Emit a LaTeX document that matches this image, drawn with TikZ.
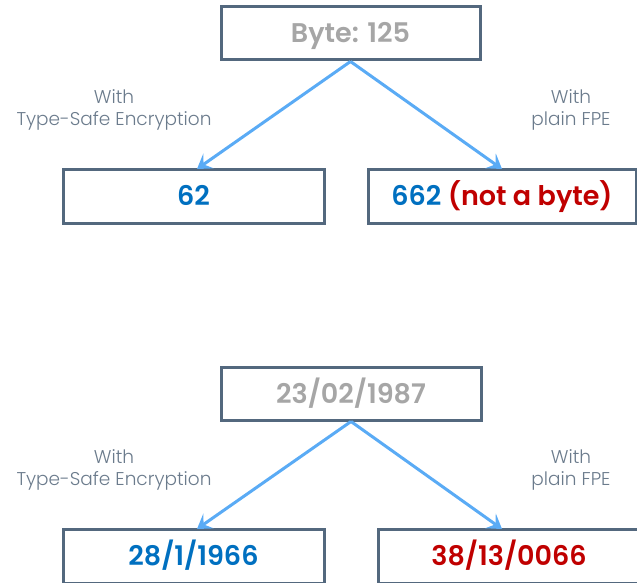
\documentclass[tikz,border=0pt]{standalone}
\usepackage{fontspec}
\setmainfont{Poppins}[BoldFont={Poppins SemiBold}]
\newfontfamily\captionfont{Poppins Light}
\usetikzlibrary{arrows.meta}
\definecolor{boxedge}{HTML}{53687E}
\definecolor{arrowblue}{HTML}{5AABF5}
\definecolor{plaingray}{HTML}{A6A6A6}
\definecolor{valblue}{HTML}{0070C0}
\definecolor{valred}{HTML}{C00000}
\definecolor{labelgray}{HTML}{6B7B8C}
\tikzset{
  valbox/.style={draw=boxedge, line width=3pt, fill=white, inner sep=0pt,
    text height=19pt, text depth=0pt,
    font=\fontsize{27}{32}\selectfont\bfseries},
  flow/.style={draw=arrowblue, line width=3pt,
    -{Stealth[length=14pt, width=18pt, inset=6pt]}},
  caption/.style={text=labelgray, align=center, font=\captionfont\fontsize{18.5}{22}\selectfont}
}
\begin{document}
\begin{tikzpicture}[x=1pt, y=-1pt]
\useasboundingbox (0,0) rectangle (637,583);

% first example: a byte value
\node[valbox, minimum width=259pt, minimum height=53pt, text=plaingray] (b0) at (350.5,33.5) {Byte: 125};
\node[valbox, minimum width=261pt, minimum height=54pt, text=valblue] (b1) at (193.5,196) {62};
\node[valbox, minimum width=268pt, minimum height=54pt] (b2) at (502,196) {\textcolor{valblue}{662} \textcolor{valred}{(not a byte)}};
\coordinate (b1t) at (197,169);
\coordinate (b2t) at (502,169);
\draw[flow] (b0.south) -- (b1t);
\draw[flow] (b0.south) -- (b2t);
\node[caption] (c1) at (114,110) {With\\Type-Safe Encryption};
\node[caption] (c2) at (571,110) {With\\plain FPE};

% second example: a date value
\node[valbox, minimum width=260pt, minimum height=53pt, text=plaingray] (d0) at (351,393.5) {23/02/1987};
\node[valbox, minimum width=261pt, minimum height=54pt, text=valblue] (d1) at (193.5,556) {28/1/1966};
\node[valbox, minimum width=262pt, minimum height=54pt, text=valred] (d2) at (509,556) {38/13/0066};
\coordinate (d1t) at (197,529);
\coordinate (d2t) at (502,529);
\draw[flow] (d0.south) -- (d1t);
\draw[flow] (d0.south) -- (d2t);
\node[caption] (c3) at (114,470) {With\\Type-Safe Encryption};
\node[caption] (c4) at (571,470) {With\\plain FPE};
\end{tikzpicture}
\end{document}
